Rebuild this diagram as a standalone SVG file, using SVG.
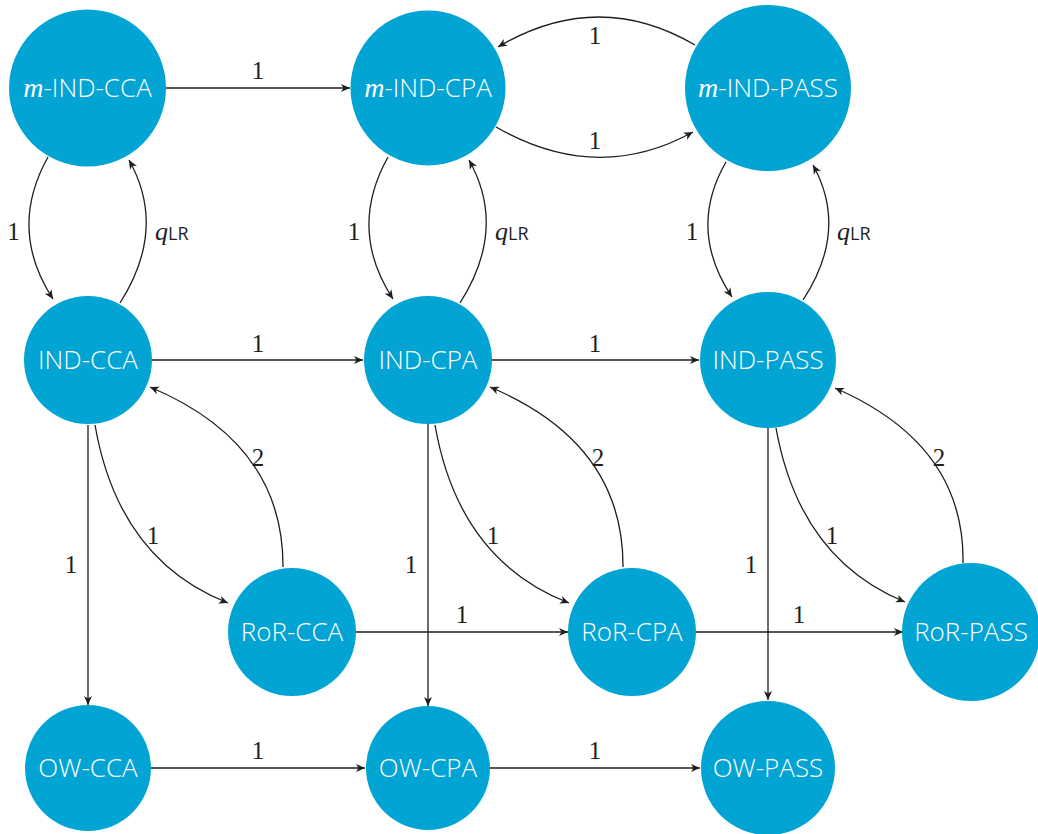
<svg xmlns="http://www.w3.org/2000/svg" width="1038" height="834" viewBox="0 0 1038 834">
<style>
.node circle{fill:#02A4D4}
.node text{font-family:"Open Sans","DejaVu Sans",sans-serif;font-size:26px;font-weight:300;fill:#ffffff;text-anchor:middle}
.mi{font-family:"Liberation Serif",serif;font-style:italic;font-weight:400;font-size:28px}
#edges path{fill:none;stroke:#1e1e1e;stroke-width:1.3;marker-end:url(#ah)}
.lbl{font-family:"Liberation Serif",serif;font-size:25px;fill:#1e1e1e;text-anchor:middle}
.q{font-family:"Liberation Serif",serif;font-style:italic;font-size:26px;fill:#1e1e1e}
.sub{font-family:"Open Sans","DejaVu Sans",sans-serif;font-size:18px;font-style:normal}
</style>
<defs>
<marker id="ah" markerUnits="userSpaceOnUse" markerWidth="12" markerHeight="12" refX="0" refY="0" orient="auto" overflow="visible">
<path d="M0,0 L-9,-4 L-6.5,0 L-9,4 Z" fill="#1e1e1e"/>
</marker>
</defs>
<rect width="1038" height="834" fill="#ffffff"/>
<g id="edges">
<path d="M166,88 L350,88"/>
<path d="M695,45 Q597.5,-12 498,47"/>
<path d="M496,127 Q597,185 693,132"/>
<path d="M48,157 Q7.5,229.5 53,299"/>
<path d="M120,303 Q167.5,228.5 129,160"/>
<path d="M388,157 Q347.5,229.5 393,299"/>
<path d="M460,303 Q507.5,228.5 469,160"/>
<path d="M726,162 Q687,229.5 732,297"/>
<path d="M803,300 Q849,230 813,165"/>
<path d="M152,360 L363,360"/>
<path d="M492,360 L699,360"/>
<path d="M95,425 Q118.5,560 228,603"/>
<path d="M283,567 Q283.5,443 150,387"/>
<path d="M435,425 Q458.5,560 569,603"/>
<path d="M623,567 Q623.5,443 490,387"/>
<path d="M776,428 Q799.5,559 905,602"/>
<path d="M963,563 Q965,444.5 835,388"/>
<path d="M88,425 L88,705"/>
<path d="M428,424 L428,706"/>
<path d="M768,428 L768,700"/>
<path d="M356,632 L568,632"/>
<path d="M696,632 L903,632"/>
<path d="M151,768 L365,768"/>
<path d="M490,768 L700,768"/>
<text class="lbl" x="258" y="79">1</text>
<text class="lbl" x="595" y="44">1</text>
<text class="lbl" x="595" y="149">1</text>
<text class="lbl" x="13.5" y="240">1</text>
<text class="lbl" x="354" y="240">1</text>
<text class="lbl" x="692" y="240">1</text>
<text class="q" x="155" y="240">q<tspan class="sub">LR</tspan></text>
<text class="q" x="495" y="240">q<tspan class="sub">LR</tspan></text>
<text class="q" x="837" y="240">q<tspan class="sub">LR</tspan></text>
<text class="lbl" x="258" y="352">1</text>
<text class="lbl" x="595" y="352">1</text>
<text class="lbl" x="153" y="544">1</text>
<text class="lbl" x="258" y="466">2</text>
<text class="lbl" x="493" y="544">1</text>
<text class="lbl" x="598" y="466">2</text>
<text class="lbl" x="832" y="544">1</text>
<text class="lbl" x="939" y="466">2</text>
<text class="lbl" x="71" y="573">1</text>
<text class="lbl" x="411" y="573">1</text>
<text class="lbl" x="751" y="573">1</text>
<text class="lbl" x="462" y="623">1</text>
<text class="lbl" x="799" y="623">1</text>
<text class="lbl" x="258" y="759">1</text>
<text class="lbl" x="595" y="759">1</text>
</g>
<g id="m-ind-cca" class="node"><circle cx="87.5" cy="88" r="78.5"/><text x="87.5" y="97"><tspan class="mi">m</tspan>-IND-CCA</text></g>
<g id="m-ind-cpa" class="node"><circle cx="428" cy="88" r="77.5"/><text x="428" y="97"><tspan class="mi">m</tspan>-IND-CPA</text></g>
<g id="m-ind-pass" class="node"><circle cx="768" cy="88" r="83"/><text x="768" y="97"><tspan class="mi">m</tspan>-IND-PASS</text></g>
<g id="ind-cca" class="node"><circle cx="88" cy="360" r="64"/><text x="88" y="369">IND-CCA</text></g>
<g id="ind-cpa" class="node"><circle cx="428" cy="360" r="64"/><text x="428" y="369">IND-CPA</text></g>
<g id="ind-pass" class="node"><circle cx="768" cy="360" r="68"/><text x="768" y="369">IND-PASS</text></g>
<g id="ror-cca" class="node"><circle cx="292" cy="632" r="64"/><text x="292" y="641">RoR-CCA</text></g>
<g id="ror-cpa" class="node"><circle cx="632" cy="632" r="64"/><text x="632" y="641">RoR-CPA</text></g>
<g id="ror-pass" class="node"><circle cx="971" cy="632" r="69"/><text x="971" y="641">RoR-PASS</text></g>
<g id="ow-cca" class="node"><circle cx="88" cy="768" r="63"/><text x="88" y="777">OW-CCA</text></g>
<g id="ow-cpa" class="node"><circle cx="428" cy="768" r="62"/><text x="428" y="777">OW-CPA</text></g>
<g id="ow-pass" class="node"><circle cx="768" cy="768" r="67"/><text x="768" y="777">OW-PASS</text></g>
</svg>
